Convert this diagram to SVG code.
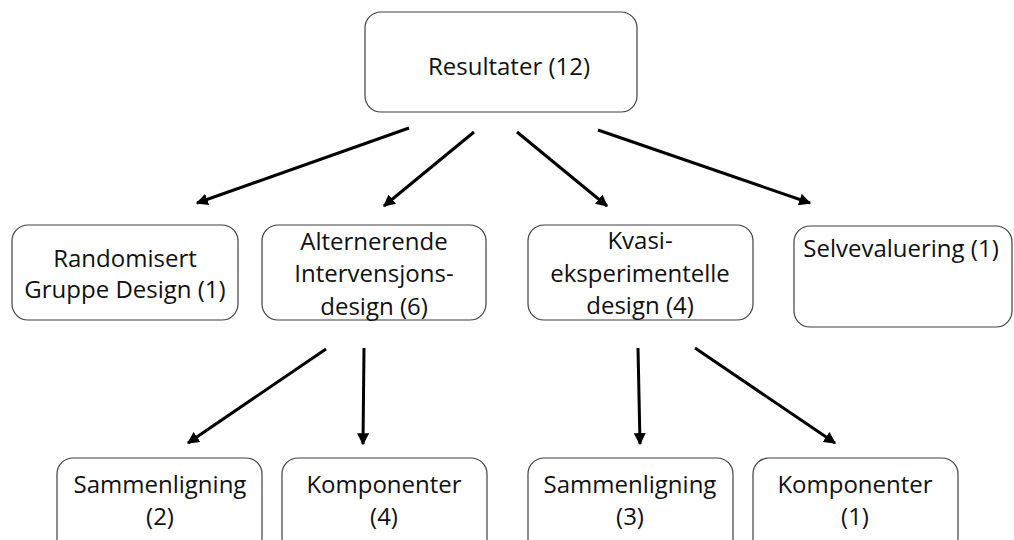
<svg xmlns="http://www.w3.org/2000/svg" width="1014" height="540" viewBox="0 0 1014 540">
<style>
.box{fill:#fff;stroke:#404040;stroke-width:1.2}
.t{font-family:"Open Sans","Liberation Sans",Arial,sans-serif;font-size:24px;fill:#111;text-anchor:middle}
.c{stroke:#000;stroke-width:3;fill:none;marker-end:url(#ah)}
</style>
<defs>
<marker id="ah" viewBox="0 0 10 10" refX="9" refY="5" markerWidth="4" markerHeight="4" orient="auto" markerUnits="strokeWidth">
<path d="M0,0 L10,5 L0,10 z" fill="#000"/>
</marker>
</defs>
<rect width="1014" height="540" fill="#fff"/>
<g id="n-resultater"><rect class="box" x="365" y="12" width="272" height="100" rx="16"/><text class="t" x="509" y="75">Resultater (12)</text></g>
<g id="n-randomisert"><rect class="box" x="12" y="225" width="226" height="95" rx="16"/><text class="t" x="125" y="267">Randomisert</text><text class="t" x="125" y="298">Gruppe Design (1)</text></g>
<g id="n-alternerende"><rect class="box" x="262" y="225" width="224" height="95" rx="16"/><text class="t" x="374" y="250">Alternerende</text><text class="t" x="374" y="282">Intervensjons-</text><text class="t" x="374" y="315">design (6)</text></g>
<g id="n-kvasi"><rect class="box" x="528" y="225" width="225" height="95" rx="16"/><text class="t" x="640" y="249">Kvasi-</text><text class="t" x="640" y="282">eksperimentelle</text><text class="t" x="640" y="314">design (4)</text></g>
<g id="n-selv"><rect class="box" x="794" y="226" width="218" height="101" rx="16"/><text class="t" x="901" y="257">Selvevaluering (1)</text></g>
<g id="n-samm2"><rect class="box" x="57" y="458" width="205" height="100" rx="16"/><text class="t" x="160" y="493">Sammenligning</text><text class="t" x="160" y="525">(2)</text></g>
<g id="n-komp4"><rect class="box" x="282" y="458" width="205" height="100" rx="16"/><text class="t" x="384" y="493">Komponenter</text><text class="t" x="384" y="525">(4)</text></g>
<g id="n-samm3"><rect class="box" x="528" y="458" width="205" height="100" rx="16"/><text class="t" x="630" y="493">Sammenligning</text><text class="t" x="630" y="525">(3)</text></g>
<g id="n-komp1"><rect class="box" x="753" y="458" width="205" height="100" rx="16"/><text class="t" x="855" y="493">Komponenter</text><text class="t" x="855" y="525">(1)</text></g>
<g id="connectors">
<line class="c" x1="409" y1="128" x2="197" y2="203"/>
<line class="c" x1="474" y1="132" x2="384" y2="206"/>
<line class="c" x1="517" y1="132" x2="607" y2="206"/>
<line class="c" x1="598" y1="130" x2="810" y2="203"/>
<line class="c" x1="326" y1="349" x2="188" y2="443"/>
<line class="c" x1="364" y1="348" x2="363" y2="444"/>
<line class="c" x1="638" y1="348" x2="640" y2="444"/>
<line class="c" x1="695" y1="348" x2="835" y2="443"/>
</g>
</svg>
